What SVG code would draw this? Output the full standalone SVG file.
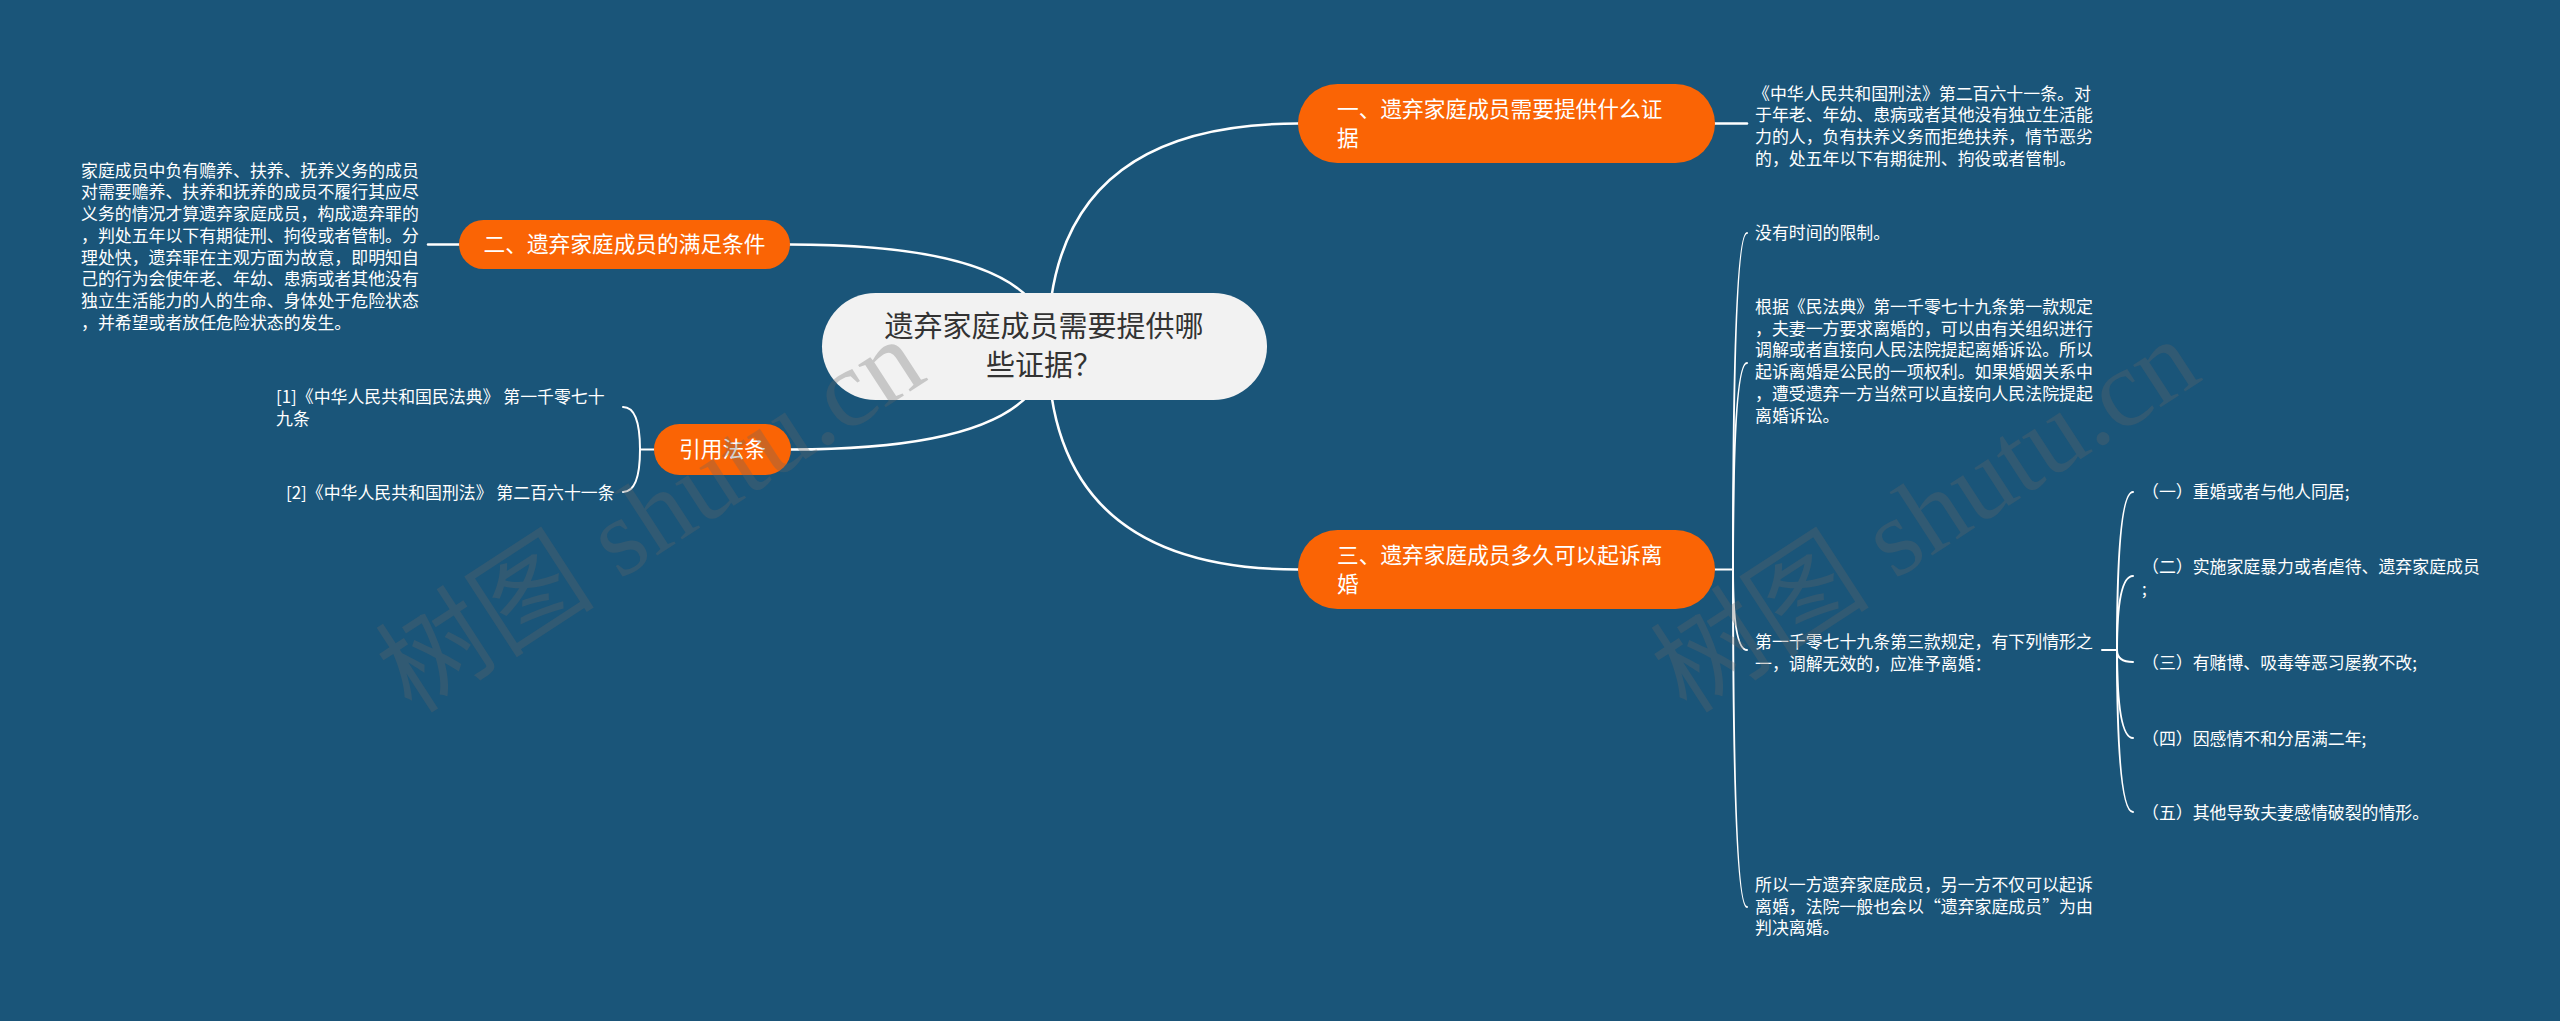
<svg xmlns="http://www.w3.org/2000/svg" width="2560" height="1021" viewBox="0 0 2560 1021">
<defs>
<style>
.bg{fill:#1a5579}
.line{fill:none;stroke:#ffffff;stroke-width:2.5;stroke-linecap:round}
.brace{fill:none;stroke:#ffffff;stroke-width:2;stroke-linecap:round}
.orange{fill:#fa6405}
.root{fill:#f2f2f2}
.rt{font-family:"Noto Sans CJK SC","Noto Sans",sans-serif;font-size:29px;fill:#333333}
.nt{font-family:"Noto Sans CJK SC","Noto Sans",sans-serif;font-size:21.7px;fill:#ffffff}
.st{font-family:"Noto Sans CJK SC","Noto Sans",sans-serif;font-size:16.9px;fill:#ffffff}
.wm{font-family:"Liberation Serif","Noto Sans CJK SC",serif;font-size:110px;fill:#666666;opacity:0.3}
</style>
</defs>
<rect class="bg" x="0" y="0" width="2560" height="1021"/>
<g id="connectors">
<path class="line" d="M1048,346 Q1048,123.5 1298,123.5"/>
<path class="line" d="M1048,346 Q1048,569.5 1298,569.5"/>
<path class="line" d="M1048,346 Q1048,244.5 790,244.5"/>
<path class="line" d="M1048,346 Q1048,449.5 791,449.5"/>
<path class="line" d="M1715,123.5 L1747,123.5"/>
<path class="line" d="M459,244.5 L428,244.5"/>
<path class="brace" d="M1715,569.5 L1733,569.5 Q1733,233 1747,233"/>
<path class="brace" d="M1733,569.5 Q1733,363 1747,363"/>
<path class="brace" d="M1733,569.5 Q1733,650 1747,650"/>
<path class="brace" d="M1733,569.5 Q1733,907 1747,907"/>
<path class="brace" d="M2102,650 L2117,650 Q2117,492 2133,492"/>
<path class="brace" d="M2117,650 Q2117,576 2133,576"/>
<path class="brace" d="M2117,650 Q2117,662 2133,662"/>
<path class="brace" d="M2117,650 Q2117,738 2133,738"/>
<path class="brace" d="M2117,650 Q2117,812 2133,812"/>
<path class="brace" d="M654,449.5 L640,449.5 Q640,407 623,407"/>
<path class="brace" d="M640,449.5 Q640,492 623,492"/>
</g>
<g id="root">
<rect class="root" x="822" y="293" width="445" height="107" rx="53.5"/>
<text class="rt" text-anchor="middle"><tspan x="1044" y="337">遗弃家庭成员需要提供哪</tspan><tspan x="1044" y="376">些证据？</tspan></text>
</g>
<g id="node1">
<rect class="orange" x="1298" y="84" width="417" height="79" rx="39.5"/>
<text class="nt"><tspan x="1337" y="116.5">一、遗弃家庭成员需要提供什么证</tspan><tspan x="1337" y="145.5">据</tspan></text>
</g>
<g id="node1-text">
<text class="st"><tspan x="1753" y="99.5">《中华人民共和国刑法》第二百六十一条。对</tspan><tspan x="1755" y="121.2">于年老、年幼、患病或者其他没有独立生活能</tspan><tspan x="1755" y="142.9">力的人，负有扶养义务而拒绝扶养，情节恶劣</tspan><tspan x="1755" y="164.6">的，处五年以下有期徒刑、拘役或者管制。</tspan></text>
</g>
<g id="node2">
<rect class="orange" x="459" y="220" width="331" height="49" rx="24.5"/>
<text class="nt" text-anchor="middle" x="624.5" y="252">二、遗弃家庭成员的满足条件</text>
</g>
<g id="node2-text">
<text class="st"><tspan x="81" y="176.7">家庭成员中负有赡养、扶养、抚养义务的成员</tspan><tspan x="81" y="198.4">对需要赡养、扶养和抚养的成员不履行其应尽</tspan><tspan x="81" y="220.1">义务的情况才算遗弃家庭成员，构成遗弃罪的</tspan><tspan x="81" y="241.8">，判处五年以下有期徒刑、拘役或者管制。分</tspan><tspan x="81" y="263.5">理处快，遗弃罪在主观方面为故意，即明知自</tspan><tspan x="81" y="285.2">己的行为会使年老、年幼、患病或者其他没有</tspan><tspan x="81" y="306.9">独立生活能力的人的生命、身体处于危险状态</tspan><tspan x="81" y="328.6">，并希望或者放任危险状态的发生。</tspan></text>
</g>
<g id="node-law">
<rect class="orange" x="654" y="424" width="137" height="51" rx="25.5"/>
<text class="nt" text-anchor="middle" x="722.5" y="457">引用法条</text>
</g>
<g id="law1">
<text class="st"><tspan x="276" y="403">[1]《中华人民共和国民法典》 第一千零七十</tspan><tspan x="276" y="425">九条</tspan></text>
</g>
<g id="law2">
<text class="st" x="286" y="499">[2]《中华人民共和国刑法》 第二百六十一条</text>
</g>
<g id="node3">
<rect class="orange" x="1298" y="530" width="417" height="79" rx="39.5"/>
<text class="nt"><tspan x="1337" y="562.5">三、遗弃家庭成员多久可以起诉离</tspan><tspan x="1337" y="591.5">婚</tspan></text>
</g>
<g id="n3-item1">
<text class="st" x="1755" y="239">没有时间的限制。</text>
</g>
<g id="n3-item2">
<text class="st"><tspan x="1755" y="313">根据《民法典》第一千零七十九条第一款规定</tspan><tspan x="1755" y="334.7">，夫妻一方要求离婚的，可以由有关组织进行</tspan><tspan x="1755" y="356.4">调解或者直接向人民法院提起离婚诉讼。所以</tspan><tspan x="1755" y="378.1">起诉离婚是公民的一项权利。如果婚姻关系中</tspan><tspan x="1755" y="399.8">，遭受遗弃一方当然可以直接向人民法院提起</tspan><tspan x="1755" y="421.5">离婚诉讼。</tspan></text>
</g>
<g id="n3-item3">
<text class="st"><tspan x="1755" y="648">第一千零七十九条第三款规定，有下列情形之</tspan><tspan x="1755" y="669.7">一，调解无效的，应准予离婚：</tspan></text>
</g>
<g id="n3-item4">
<text class="st"><tspan x="1755" y="891">所以一方遗弃家庭成员，另一方不仅可以起诉</tspan><tspan x="1755" y="912.7">离婚，法院一般也会以“遗弃家庭成员”为由</tspan><tspan x="1755" y="934.4">判决离婚。</tspan></text>
</g>
<g id="sub1"><text class="st" x="2142" y="498">（一）重婚或者与他人同居;</text></g>
<g id="sub2"><text class="st"><tspan x="2142" y="573">（二）实施家庭暴力或者虐待、遗弃家庭成员</tspan><tspan x="2142" y="595">;</tspan></text></g>
<g id="sub3"><text class="st" x="2142" y="669">（三）有赌博、吸毒等恶习屡教不改;</text></g>
<g id="sub4"><text class="st" x="2142" y="745">（四）因感情不和分居满二年;</text></g>
<g id="sub5"><text class="st" x="2142" y="819">（五）其他导致夫妻感情破裂的情形。</text></g>
<g id="watermarks">
<text class="wm" text-anchor="middle" transform="translate(650,515) rotate(-33)" x="0" y="38">树图 shutu.cn</text>
<text class="wm" text-anchor="middle" transform="translate(1925,515) rotate(-33)" x="0" y="38">树图 shutu.cn</text>
</g>
</svg>
